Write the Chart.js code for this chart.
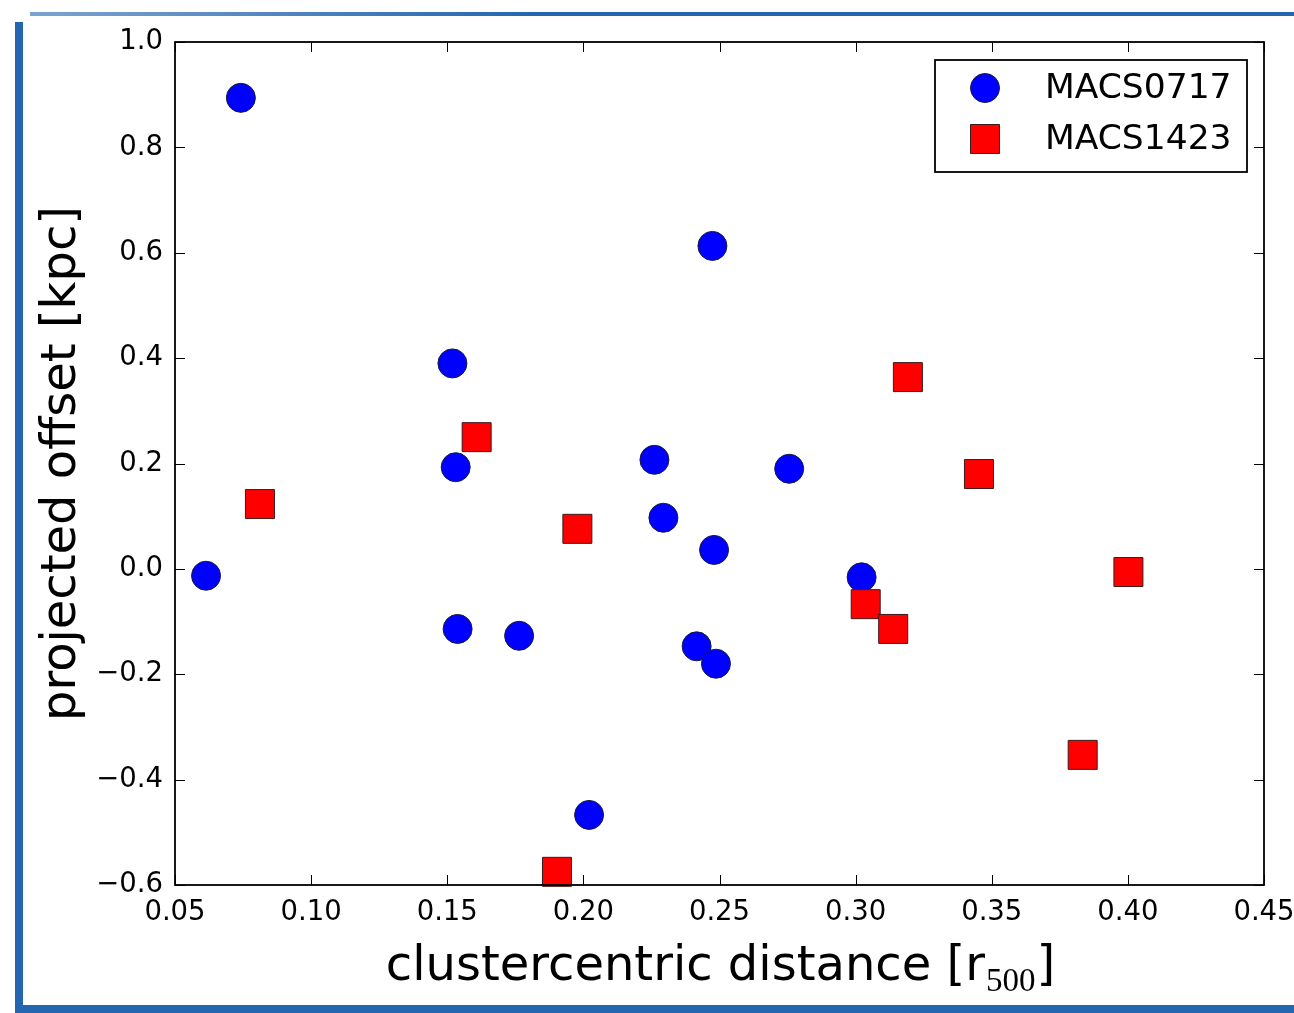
<!DOCTYPE html>
<html>
<head>
<meta charset="utf-8">
<script src="https://cdn.jsdelivr.net/npm/chart.js@4.4.1/dist/chart.umd.min.js"></script>
<style>
  html, body { margin: 0; padding: 0; background: #fff; }
  #wrap { position: relative; width: 1294px; height: 1013px; overflow: hidden; }
  canvas { position: absolute; left: 0; top: 0; }
  .frame { position: absolute; background: #2566b0; }
</style>
</head>
<body>
<div id="wrap">
  <canvas id="c" width="1294" height="1013"></canvas>
  <div class="frame" style="left:30px; top:12px; width:1264px; height:4px; background: linear-gradient(to right, rgba(37,102,176,0.6), #2566b0 40%);"></div>
  <div class="frame" style="left:15px; top:22px; width:8px; height:991px;"></div>
  <div class="frame" style="left:15px; top:1005px; width:1279px; height:8px;"></div>
</div>
<script>
// ---- data ----
const seriesNames = ['MACS0717', 'MACS1423'];
const macs0717X = [0.0614, 0.0742, 0.2474, 0.1519, 0.1531, 0.2261, 0.2756, 0.2294, 0.2480, 0.3022, 0.1538, 0.1764, 0.2416, 0.2487, 0.2021];
const macs0717Y = [-0.013, 0.894, 0.613, 0.390, 0.193, 0.207, 0.190, 0.097, 0.036, -0.016, -0.114, -0.127, -0.147, -0.180, -0.467];
const macs1423X = [0.0812, 0.1608, 0.1978, 0.3192, 0.3453, 0.4002, 0.3037, 0.3138, 0.3834, 0.1903];
const macs1423Y = [0.123, 0.250, 0.076, 0.364, 0.180, -0.006, -0.067, -0.114, -0.353, -0.575];
const xTicks = [0.05, 0.10, 0.15, 0.20, 0.25, 0.30, 0.35, 0.40, 0.45];
const yTicks = [-0.6, -0.4, -0.2, 0.0, 0.2, 0.4, 0.6, 0.8, 1.0];
const xTitle = 'clustercentric distance [r';
const xTitleSub = '500';
const xTitleEnd = ']';
const yTitle = 'projected offset [kpc]';

const toPts = (xs, ys) => xs.map((x, i) => ({ x: x, y: ys[i] }));

const FONT = "'DejaVu Sans', sans-serif";

const framePlugin = {
  id: 'frameTicks',
  afterDatasetsDraw(chart) {
    const { ctx, chartArea: a, scales } = chart;
    ctx.save();
    ctx.strokeStyle = '#000';
    ctx.lineWidth = 1;
    const L = 10;
    ctx.beginPath();
    scales.x.ticks.forEach(t => {
      const px = Math.round(scales.x.getPixelForValue(t.value)) + 0.5;
      ctx.moveTo(px, a.bottom); ctx.lineTo(px, a.bottom - L);
      ctx.moveTo(px, a.top); ctx.lineTo(px, a.top + L);
    });
    scales.y.ticks.forEach(t => {
      const py = Math.round(scales.y.getPixelForValue(t.value)) + 0.5;
      ctx.moveTo(a.left, py); ctx.lineTo(a.left + L, py);
      ctx.moveTo(a.right, py); ctx.lineTo(a.right - L, py);
    });
    ctx.stroke();
    ctx.lineWidth = 1.8;
    ctx.strokeRect(a.left, a.top, a.right - a.left, a.bottom - a.top);

    // legend
    const lx = 935, ly = 60, lw = 312, lh = 112;
    ctx.fillStyle = '#fff';
    ctx.fillRect(lx, ly, lw, lh);
    ctx.lineWidth = 1.8;
    ctx.strokeStyle = '#000';
    ctx.strokeRect(lx, ly, lw, lh);
    const rows = [88, 139];
    chart.data.datasets.forEach((ds, i) => {
      const cy = rows[i];
      ctx.fillStyle = ds.backgroundColor;
      ctx.strokeStyle = ds.borderColor;
      ctx.lineWidth = 1;
      ctx.beginPath();
      if (ds.pointStyle === 'circle') {
        ctx.arc(985, cy, ds.pointRadius, 0, Math.PI * 2);
      } else {
        const s = ds.pointRadius * Math.SQRT1_2;
        ctx.rect(985 - s, cy - s, 2 * s, 2 * s);
      }
      ctx.fill(); ctx.stroke();
      ctx.fillStyle = '#000';
      ctx.font = '34.5px ' + FONT;
      ctx.textAlign = 'left';
      ctx.textBaseline = 'middle';
      ctx.fillText(ds.label, 1045, cy + 1);
    });

    // axis titles
    ctx.fillStyle = '#000';
    ctx.font = '48px ' + FONT;
    ctx.textBaseline = 'alphabetic';
    const cx = (a.left + a.right) / 2;
    const w1 = ctx.measureText(xTitle).width;
    ctx.font = '33px "Liberation Serif", serif';
    const w2 = ctx.measureText(xTitleSub).width;
    ctx.font = '48px ' + FONT;
    const w3 = ctx.measureText(xTitleEnd).width;
    let x0 = cx - (w1 + w2 + w3) / 2;
    const base = 980;
    ctx.textAlign = 'left';
    ctx.fillText(xTitle, x0, base);
    ctx.font = '33px "Liberation Serif", serif';
    ctx.fillText(xTitleSub, x0 + w1 + 1, base + 11);
    ctx.font = '48px ' + FONT;
    ctx.fillText(xTitleEnd, x0 + w1 + w2 + 2, base);

    ctx.translate(75, (a.top + a.bottom) / 2);
    ctx.rotate(-Math.PI / 2);
    ctx.textAlign = 'center';
    ctx.fillText(yTitle, 0, 0);
    ctx.restore();
  }
};

const fmtY = v => { const s = Number(v).toFixed(1); return s.replace('-', '\u2212'); };

new Chart(document.getElementById('c'), {
  type: 'scatter',
  data: {
    datasets: [
      { label: seriesNames[0], data: toPts(macs0717X, macs0717Y), pointStyle: 'circle', pointRadius: 14.5, pointHoverRadius: 14.5,
        backgroundColor: '#0000ff', borderColor: '#1a1a3a', borderWidth: 1, order: 2, clip: false },
      { label: seriesNames[1], data: toPts(macs1423X, macs1423Y), pointStyle: 'rect', pointRadius: 20.5, pointHoverRadius: 20.5,
        backgroundColor: '#ff0000', borderColor: '#3a1a1a', borderWidth: 1, order: 1, clip: false }
    ]
  },
  options: {
    responsive: false,
    animation: false,
    devicePixelRatio: 1,
    layout: { padding: { left: 0, top: 42, right: 30, bottom: 0 } },
    plugins: { legend: { display: false }, tooltip: { enabled: false } },
    scales: {
      x: {
        type: 'linear', min: 0.05, max: 0.45,
        afterBuildTicks: s => { s.ticks = xTicks.map(v => ({ value: v })); },
        afterFit: s => { s.height = 128; s.paddingLeft = 0; s.paddingRight = 0; },
        grid: { display: false, drawTicks: false },
        border: { display: false },
        ticks: { padding: 11, color: '#000', font: { family: FONT, size: 27.5 }, maxRotation: 0, autoSkip: false,
                 callback: v => Number(v).toFixed(2) }
      },
      y: {
        type: 'linear', min: -0.6, max: 1.0,
        afterBuildTicks: s => { s.ticks = yTicks.map(v => ({ value: v })); },
        afterFit: s => { s.width = 175; s.paddingTop = 0; s.paddingBottom = 0; },
        grid: { display: false, drawTicks: false },
        border: { display: false },
        ticks: { padding: 12, color: '#000', font: { family: FONT, size: 27.5 }, autoSkip: false,
                 callback: v => fmtY(v) }
      }
    }
  },
  plugins: [framePlugin]
});
</script>
</body>
</html>
